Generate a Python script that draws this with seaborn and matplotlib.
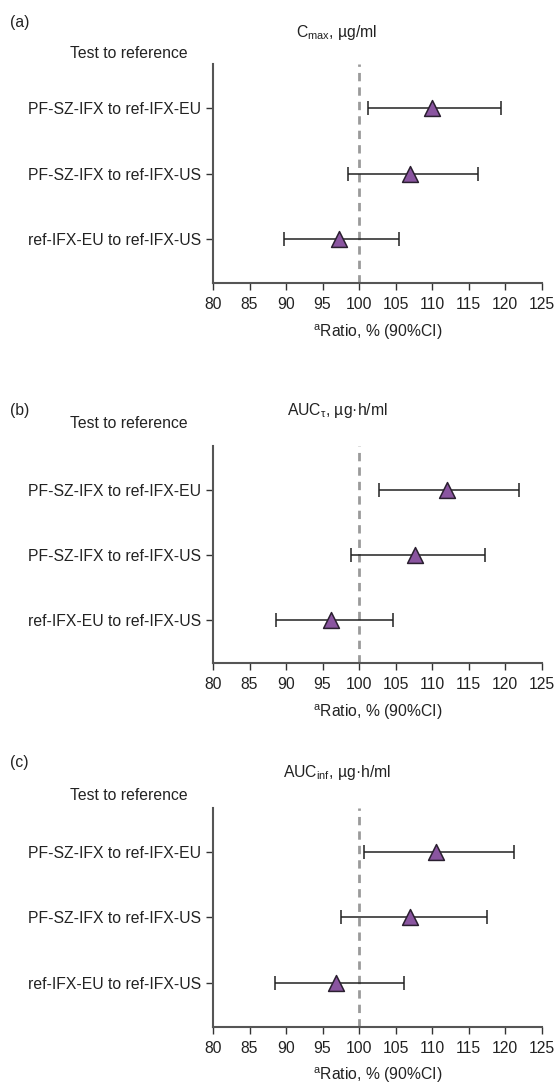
import matplotlib
matplotlib.use("Agg")
import matplotlib.pyplot as plt
import seaborn as sns

# comparisons (top to bottom)
comparisons = ["PF-SZ-IFX to ref-IFX-EU", "PF-SZ-IFX to ref-IFX-US", "ref-IFX-EU to ref-IFX-US"]

# ratio point estimates and 90% CI bounds per PK parameter
cmax_ratio = [110.0, 107.0, 97.3]
cmax_low = [101.3, 98.5, 89.7]
cmax_high = [119.5, 116.3, 105.5]

auct_ratio = [112.0, 107.7, 96.2]
auct_low = [102.8, 98.9, 88.6]
auct_high = [121.9, 117.3, 104.6]

aucinf_ratio = [110.5, 107.0, 96.9]
aucinf_low = [100.7, 97.6, 88.5]
aucinf_high = [121.3, 117.6, 106.2]

panel_titles = [r"C$_{\mathregular{max}}$, µg/ml", r"AUC$_{\mathregular{\tau}}$, µg·h/ml",
                r"AUC$_{\mathregular{inf}}$, µg·h/ml"]
panel_tags = ["(a)", "(b)", "(c)"]
xticks = [80, 85, 90, 95, 100, 105, 110, 115, 120, 125]

sns.set_style("ticks")
plt.rcParams["font.family"] = ["Liberation Sans", "DejaVu Sans"]
plt.rcParams["mathtext.fontset"] = "custom"
plt.rcParams["mathtext.rm"] = "Liberation Sans"
plt.rcParams["mathtext.it"] = "Liberation Sans:italic"

fig = plt.figure(figsize=(5.55, 10.86), dpi=100)
W, H = 555.0, 1086.0
fs = 11.3

# pixel layout of each panel: (axes bottom, axes top, title y, tag y, subtitle y)
layout = [(283.3, 64.0, 33, 22, 53),
          (663.3, 446.0, 410, 410, 423),
          (1026.7, 808.0, 773, 763, 795)]
data = [(cmax_ratio, cmax_low, cmax_high),
        (auct_ratio, auct_low, auct_high),
        (aucinf_ratio, aucinf_low, aucinf_high)]

for i, (ratio, low, high) in enumerate(data):
    bot, top, ty, tagy, sy = layout[i]
    ax = fig.add_axes([213.0 / W, 1 - bot / H, (541.5 - 213.0) / W, (bot - top) / H])
    xerr = [[r - l for r, l in zip(ratio, low)], [h - r for r, h in zip(ratio, high)]]
    ax.axvline(100, color="#9a9a9a", ls=(0, (3, 2.2)), lw=2, zorder=1)
    ax.errorbar(ratio, list(range(len(comparisons))), xerr=xerr, fmt="none",
                ecolor="#222222", elinewidth=1.1, capsize=5, capthick=1.1, zorder=2)
    sns.scatterplot(x=ratio, y=comparisons, ax=ax, marker="^", s=130,
                    color="#8a55a0", edgecolor="#2a1f30", linewidth=1.1, zorder=3)
    ax.set_xlim(80, 125)
    ax.set_ylim(2.67, -0.67)
    ax.set_xticks(xticks)
    ax.tick_params(axis="both", labelsize=fs, length=5, width=1, color="#333333",
                   labelcolor="#222222")
    ax.tick_params(axis="x", pad=5)
    for side in ["left", "bottom"]:
        ax.spines[side].set_color("#555555")
        ax.spines[side].set_linewidth(1.5)
    sns.despine(ax=ax)
    ax.set_xlabel(r"$^{\mathregular{a}}$Ratio, % (90%CI)", fontsize=fs, labelpad=7, color="#222222")
    ax.set_ylabel("")
    fig.text(337 / W, 1 - ty / H, panel_titles[i], ha="center", va="center",
             fontsize=fs, color="#222222")
    fig.text(188 / W, 1 - sy / H, "Test to reference", ha="right", va="center",
             fontsize=fs, color="#222222")
    fig.text(10 / W, 1 - tagy / H, panel_tags[i], ha="left", va="center",
             fontsize=fs, color="#222222")

fig.savefig("out.png", dpi=100)
